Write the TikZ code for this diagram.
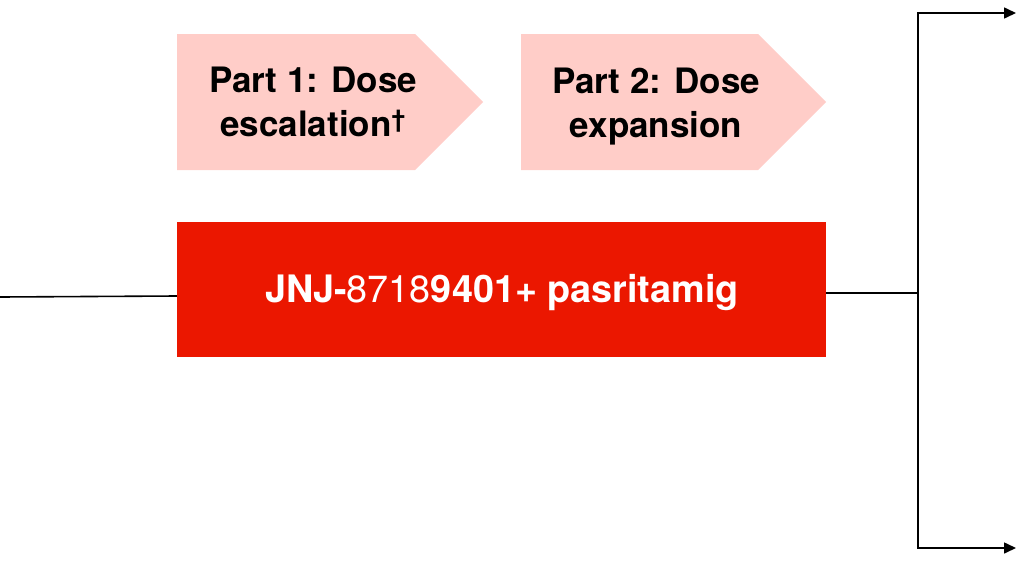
\documentclass[tikz,border=0pt]{standalone}
\usepackage{fontspec}
\setmainfont{TeX Gyre Heros}
\usetikzlibrary{arrows.meta}
\definecolor{jred}{HTML}{EB1700}
\definecolor{jpink}{HTML}{FFCDC8}
\tikzset{
  pinkarrow/.style={fill=jpink, draw=none},
  pinktext/.style={font=\fontsize{35}{44}\selectfont\bfseries, align=center, inner sep=0pt, text=black},
  redbox/.style={fill=jred, draw=none, inner sep=0pt, minimum width=649pt, minimum height=135pt},
  conn/.style={line width=1.6pt, draw=black},
  tip/.style={-{Triangle[length=12pt,width=11pt]}},
}
\begin{document}
\begin{tikzpicture}[x=1pt,y=-1pt]
\useasboundingbox (0,0) rectangle (1031,560);
% pink arrows
\fill[pinkarrow] (177,34) -- (415,34) -- (483,102) -- (415,170) -- (177,170) -- cycle;
\fill[pinkarrow] (521,34) -- (758,34) -- (826,102) -- (758,170) -- (521,170) -- cycle;
\node[pinktext] (p1) at (313,102) {Part 1: Dose\\escalation\textsuperscript{†}};
\node[pinktext] (p2) at (656,107) {Part 2: Dose\\expansion};
% red box
\node[redbox] (rb) at (501.5,289.5) {};
\node[font=\fontsize{37.8}{44}\selectfont, text=white, inner sep=0pt, anchor=base] (rt) at (502,302)
  {\bfseries JNJ-\mdseries 8718\bfseries 9401+ pasritamig};
% connectors
\coordinate (lin) at (0,297);
\coordinate (jn) at (918,293);
\coordinate (top) at (918,13);
\coordinate (bot) at (918,548);
\coordinate (topend) at (1016,13);
\coordinate (botend) at (1016,548);
\draw[conn] (lin) -- (rb.west |- 0,296);
\draw[conn] (rb.east |- jn) -- (jn);
\draw[conn, line cap=rect] (top) -- (bot);
\draw[conn, tip] (top) -- (topend);
\draw[conn, tip] (bot) -- (botend);
\end{tikzpicture}
\end{document}
